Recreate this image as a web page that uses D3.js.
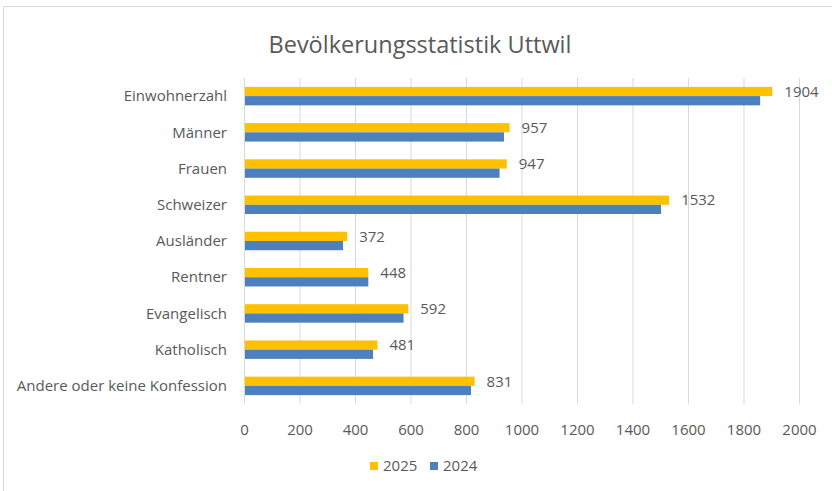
<!DOCTYPE html>
<html>
<head>
<meta charset="utf-8">
<script src="https://cdn.jsdelivr.net/npm/d3@7"></script>
<style>
  body { margin: 0; background: #fff; }
  svg { font-family: "Open Sans", "Noto Sans", sans-serif; }
</style>
</head>
<body>
<svg id="chart" width="832" height="491"></svg>
<script>
const categories = ["Einwohnerzahl", "Männer", "Frauen", "Schweizer", "Ausländer", "Rentner", "Evangelisch", "Katholisch", "Andere oder keine Konfession"];
const values2025 = [1904, 957, 947, 1532, 372, 448, 592, 481, 831];
const values2024 = [1860, 937, 921, 1503, 357, 448, 575, 465, 818];
const seriesNames = ["2025", "2024"];
const xTicks = [0, 200, 400, 600, 800, 1000, 1200, 1400, 1600, 1800, 2000];

const colors = { "2025": "#FFC000", "2024": "#4E80BD" };
const textColor = "#595959";

const svg = d3.select("#chart");

// chart border
svg.append("rect")
  .attr("x", 3.5).attr("y", 6.5)
  .attr("width", 840).attr("height", 500)
  .attr("fill", "none")
  .attr("stroke", "#d9d9d9");

svg.append("text")
  .attr("x", 420).attr("y", 53)
  .attr("text-anchor", "middle")
  .attr("fill", textColor)
  .style("font-size", "23.5px")
  .text("Bevölkerungsstatistik Uttwil");

const plot = { left: 244, right: 799, top: 78, bottom: 404 };

const x = d3.scaleLinear()
  .domain([0, 2000])
  .range([plot.left, plot.right]);

const y = d3.scaleBand()
  .domain(categories)
  .range([plot.top, plot.bottom])
  .paddingInner(0.49)
  .paddingOuter(0.245);

const ySub = d3.scaleBand()
  .domain(seriesNames)
  .range([0, y.bandwidth()]);

// gridlines
svg.append("g")
  .selectAll("line")
  .data(xTicks)
  .enter().append("line")
  .attr("x1", d => x(d) + 0.5)
  .attr("x2", d => x(d) + 0.5)
  .attr("y1", plot.top)
  .attr("y2", plot.bottom)
  .attr("stroke", "#d9d9d9")
  .attr("stroke-width", 1);

// x axis labels
const xAxis = svg.append("g")
  .attr("transform", `translate(0,${plot.bottom + 17})`)
  .call(d3.axisBottom(x).tickValues(xTicks).tickSize(0).tickFormat(d3.format("d")));
xAxis.select(".domain").remove();
xAxis.selectAll("text")
  .attr("fill", textColor)
  .style("font-size", "15px")
  .style("font-family", "\"Open Sans\", sans-serif");

// y axis labels
const yAxis = svg.append("g")
  .attr("transform", `translate(${plot.left - 14},0)`)
  .call(d3.axisLeft(y).tickSize(0));
yAxis.select(".domain").remove();
yAxis.selectAll("text")
  .attr("fill", textColor)
  .attr("dy", "0.35em")
  .style("font-size", "15px")
  .style("font-family", "\"Open Sans\", sans-serif");

const rows = categories.map((c, i) => ({ cat: c, "2025": values2025[i], "2024": values2024[i] }));

const groups = svg.append("g")
  .selectAll("g")
  .data(rows)
  .enter().append("g")
  .attr("transform", d => `translate(0,${y(d.cat)})`);

groups.selectAll("rect")
  .data(d => seriesNames.map(s => ({ key: s, value: d[s] })))
  .enter().append("rect")
  .attr("x", x(0) + 1)
  .attr("y", d => ySub(d.key))
  .attr("width", d => x(d.value) - x(0) - 1)
  .attr("height", ySub.bandwidth())
  .attr("fill", d => colors[d.key]);

// value labels for 2025
groups.append("text")
  .attr("x", d => x(d["2025"]) + 12)
  .attr("y", ySub("2025") + ySub.bandwidth() / 2)
  .attr("dy", "0.35em")
  .attr("fill", textColor)
  .style("font-size", "15px")
  .text(d => d["2025"]);

// legend
const legend = svg.append("g").attr("transform", "translate(370,462)");
seriesNames.forEach((s, i) => {
  const g = legend.append("g").attr("transform", `translate(${i * 60},0)`);
  g.append("rect").attr("width", 8).attr("height", 8).attr("fill", colors[s]);
  g.append("text")
    .attr("x", 13).attr("y", 4)
    .attr("dy", "0.35em")
    .attr("fill", textColor)
    .style("font-size", "15px")
    .text(s);
});
</script>
</body>
</html>
